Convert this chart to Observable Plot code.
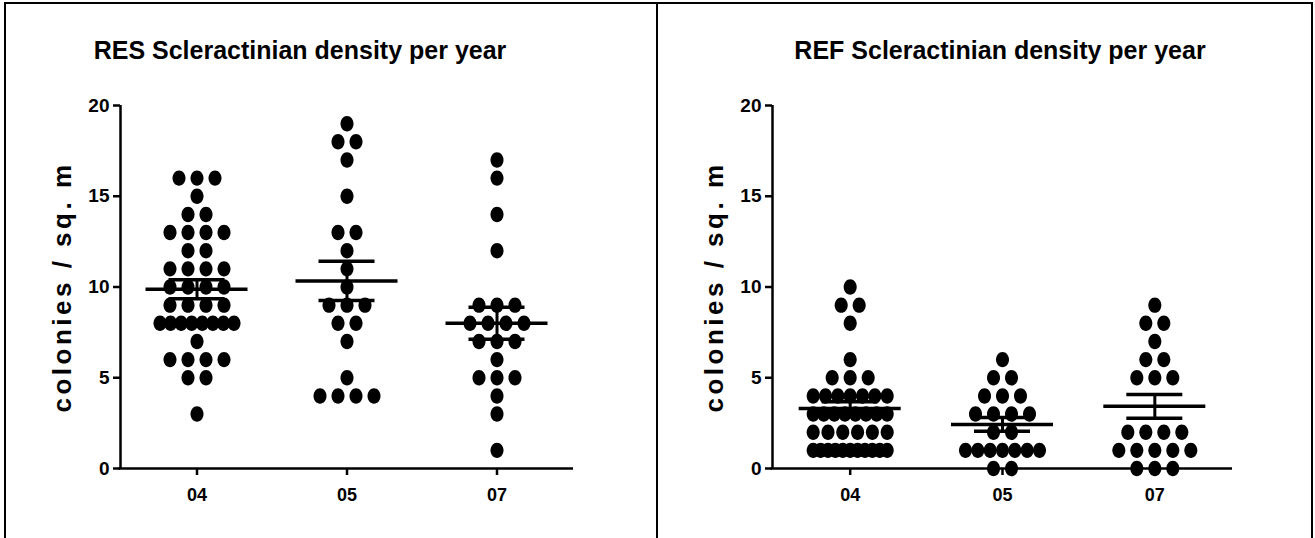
<!DOCTYPE html>
<html>
<head>
<meta charset="utf-8">
<script src="https://cdn.jsdelivr.net/npm/d3@7"></script>
<script src="https://cdn.jsdelivr.net/npm/@observablehq/plot@0.6"></script>
<style>
  html, body { margin: 0; padding: 0; background: #fff; }
  #wrap { position: relative; width: 1315px; height: 538px; overflow: hidden; font-family: "Liberation Sans", Arial, sans-serif; }
  .line { position: absolute; background: #000; }
  .title { position: absolute; top: 38px; transform: translateX(-50%); white-space: nowrap; font-size: 25px; line-height: 25px; font-weight: bold; color: #000; }
  .panel { position: absolute; top: 0; }
</style>
</head>
<body>
<div id="wrap"></div>
<script>
// ---- data ----
const years = ["04", "05", "07"];
const yTicks = [0, 5, 10, 15, 20];
const yLabel = "colonies / sq. m";
const titleRES = "RES Scleractinian density per year";
const titleREF = "REF Scleractinian density per year";

const res04 = [16,16,16,15,14,14,13,13,13,13,12,12,11,11,11,11,10,10,10,10,9,9,9,9,8,8,8,8,8,8,8,8,7,6,6,6,6,5,5,3];
const res05 = [19,18,18,17,15,13,13,12,11,10,9,9,9,8,8,7,5,4,4,4,4];
const res07 = [17,16,14,12,9,9,9,8,8,8,8,7,7,7,6,5,5,5,4,3,1];

const ref04 = [10,9,9,8,6,5,5,5,4,4,4,4,4,4,4,3,3,3,3,3,3,3,3,2,2,2,2,2,2,1,1,1,1,1,1,1,1,1,1,1];
const ref05 = [6,5,5,4,4,4,3,3,3,3,2,2,1,1,1,1,1,1,1,0,0];
const ref07 = [9,8,8,7,6,6,5,5,5,2,2,2,2,1,1,1,1,1,0,0,0];

// ---- layout ----
const wrap = document.getElementById("wrap");
function addLine(x, y, w, h) {
  const d = document.createElement("div");
  d.className = "line";
  Object.assign(d.style, {left: x + "px", top: y + "px", width: w + "px", height: h + "px"});
  wrap.appendChild(d);
}
addLine(4, 2, 1309, 2);
addLine(4, 2, 2, 536);
addLine(656, 2, 2, 536);
addLine(1311, 2, 2, 536);

const ellipse = {
  draw(ctx, size) {
    const r = Math.sqrt(size / Math.PI);
    const rx = r * 0.87, ry = r * 1.03, k = 0.5523;
    ctx.moveTo(rx, 0);
    ctx.bezierCurveTo(rx, ry * k, rx * k, ry, 0, ry);
    ctx.bezierCurveTo(-rx * k, ry, -rx, ry * k, -rx, 0);
    ctx.bezierCurveTo(-rx, -ry * k, -rx * k, -ry, 0, -ry);
    ctx.bezierCurveTo(rx * k, -ry, rx, -ry * k, rx, 0);
    ctx.closePath();
  }
};

function panel({groups, title, left, width, marginLeft, marginRight, titleX}) {
  const x0 = -0.51, x1 = 2.51;
  const kx = (width - marginLeft - marginRight) / (x1 - x0); // px per unit
  const pts = [];
  const stats = [];
  groups.forEach((vals, gi) => {
    const byVal = d3.group(vals, v => v);
    for (const [v, arr] of byVal) {
      const n = arr.length;
      const sp = n > 1 ? Math.min(18, 74 / (n - 1)) : 0;
      arr.forEach((_, i) => pts.push({x: gi + ((i - (n - 1) / 2) * sp) / kx, y: v}));
    }
    const m = d3.mean(vals);
    const sem = d3.deviation(vals) / Math.sqrt(vals.length);
    stats.push({g: gi, mean: m, lo: m - sem, hi: m + sem});
  });
  const meanHalf = 51 / kx, capHalf = 28 / kx;

  const chart = Plot.plot({
    width, height: 538,
    marginLeft, marginRight, marginTop: 105, marginBottom: 70,
    style: {fontFamily: '"Liberation Sans", Arial, sans-serif', fontWeight: "bold", fontSize: "18px", color: "#000", background: "transparent", overflow: "visible"},
    x: {domain: [x0, x1], axis: null},
    y: {domain: [0, 20], axis: null},
    marks: [
      Plot.dot(pts, {x: "x", y: "y", r: 7.5, symbol: ellipse, fill: "#000", stroke: "none"}),
      Plot.ruleY(stats, {y: "mean", x1: d => d.g - meanHalf, x2: d => d.g + meanHalf, strokeWidth: 3.5, stroke: "#000"}),
      Plot.ruleY(stats, {y: "hi", x1: d => d.g - capHalf, x2: d => d.g + capHalf, strokeWidth: 3.5, stroke: "#000"}),
      Plot.ruleY(stats, {y: "lo", x1: d => d.g - capHalf, x2: d => d.g + capHalf, strokeWidth: 3.5, stroke: "#000"}),
      Plot.ruleX(stats, {x: "g", y1: "lo", y2: "hi", strokeWidth: 3, stroke: "#000"}),
      Plot.ruleX([x0], {y1: 0, y2: 20, strokeWidth: 2.5, stroke: "#000"}),
      Plot.ruleY([0], {x1: x0 - 0.01, x2: x1, strokeWidth: 2.5, stroke: "#000"}),
      Plot.axisY({ticks: yTicks, tickSize: 7, tickPadding: 4, strokeWidth: 2.5, fontSize: 19, fontWeight: "bold", label: null, tickFormat: d => String(d)}),
      Plot.axisX({ticks: [0, 1, 2], tickFormat: i => years[i], tickSize: 7, tickPadding: 13, strokeWidth: 2.5, fontSize: 18, fontWeight: "bold", label: null}),
      Plot.text([yLabel], {frameAnchor: "left", dx: -58, rotate: -90, textAnchor: "middle", fontSize: 26, fontWeight: "bold", text: d => d})
    ]
  });
  const sel = d3.select(chart);
  sel.selectAll("text").filter(function() { return this.textContent === yLabel; })
    .style("letter-spacing", "3.5px").style("font-size", "26px");
  const holder = document.createElement("div");
  holder.className = "panel";
  holder.style.left = left + "px";
  holder.appendChild(chart);
  wrap.appendChild(holder);

  const t = document.createElement("div");
  t.className = "title";
  t.style.left = titleX + "px";
  t.textContent = title;
  wrap.appendChild(t);
}

panel({groups: [res04, res05, res07], title: titleRES, left: 0, width: 657, marginLeft: 120, marginRight: 84, titleX: 300});
panel({groups: [ref04, ref05, ref07], title: titleREF, left: 657, width: 658, marginLeft: 115, marginRight: 83, titleX: 1000});
</script>
</body>
</html>
